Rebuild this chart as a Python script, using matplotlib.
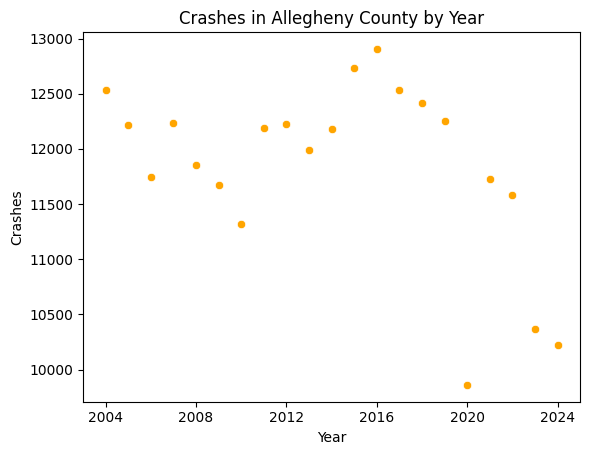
import matplotlib
matplotlib.use("Agg")
import matplotlib.pyplot as plt
import seaborn as sns
import pandas as pd

years = list(range(2004, 2025))
crashes = [12536, 12218, 11748, 12236, 11855, 11673, 11318, 12191, 12227, 11991,
           12182, 12736, 12909, 12536, 12421, 12255, 9861, 11727, 11582, 10370, 10225]

df = pd.DataFrame({"Year": years, "Crashes": crashes})

fig, ax = plt.subplots(figsize=(5.89, 4.55), dpi=100)
fig.subplots_adjust(left=0.141, right=0.985, bottom=0.117, top=0.93)

sns.scatterplot(data=df, x="Year", y="Crashes", color="orange", ax=ax)
ax.set_xticks([2004, 2008, 2012, 2016, 2020, 2024])
ax.set_title("Crashes in Allegheny County by Year")

fig.savefig("out.png")
